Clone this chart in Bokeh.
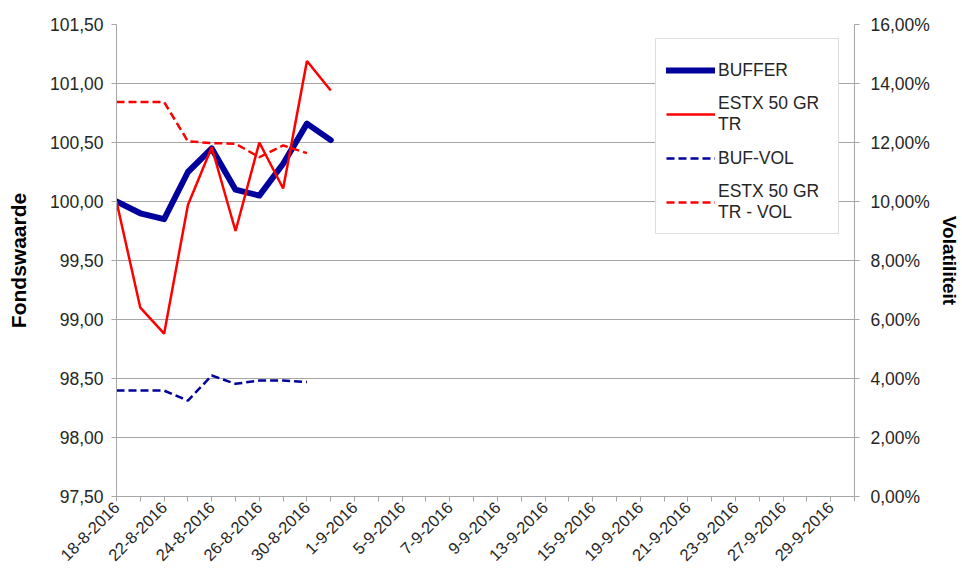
import math
from bokeh.plotting import figure
from bokeh.models import (Range1d, LinearAxis, FixedTicker, CustomJSTickFormatter,
                          Legend, LegendItem)
from bokeh.embed import file_html
from bokeh.resources import INLINE

# ---- data ----
dates = ["18-8-2016", "19-8-2016", "22-8-2016", "23-8-2016", "24-8-2016", "25-8-2016",
         "26-8-2016", "29-8-2016", "30-8-2016", "31-8-2016", "1-9-2016", "2-9-2016",
         "5-9-2016", "6-9-2016", "7-9-2016", "8-9-2016", "9-9-2016", "12-9-2016",
         "13-9-2016", "14-9-2016", "15-9-2016", "16-9-2016", "19-9-2016", "20-9-2016",
         "21-9-2016", "22-9-2016", "23-9-2016", "26-9-2016", "27-9-2016", "28-9-2016",
         "29-9-2016", "30-9-2016"]
buffer = [100.00, 99.90, 99.85, 100.25, 100.45, 100.10, 100.05, 100.32, 100.66, 100.52]
estx = [100.00, 99.10, 98.88, 99.97, 100.46, 99.75, 100.50, 100.11, 101.19, 100.94]
buf_vol = [3.59, 3.59, 3.59, 3.25, 4.10, 3.82, 3.93, 3.93, 3.88]
estx_vol = [13.37, 13.37, 13.37, 12.04, 11.98, 11.96, 11.50, 11.90, 11.64]
left_ticks = [97.5, 98.0, 98.5, 99.0, 99.5, 100.0, 100.5, 101.0, 101.5]
right_ticks = [0, 2, 4, 6, 8, 10, 12, 14, 16]

FONT = "Liberation Sans"
GRAY = "#a6a6a6"
TXT = "#262626"
BLUE = "#00009c"
RED = "#ff0000"

p = figure(width=962, height=573, x_range=Range1d(0, len(dates) - 1),
           y_range=Range1d(97.5, 101.5), output_backend="svg", toolbar_location=None,
           min_border_left=116, min_border_right=105, min_border_top=24,
           min_border_bottom=77)
p.outline_line_color = None
p.background_fill_color = "white"
p.border_fill_color = "white"
p.xgrid.visible = False
p.ygrid.grid_line_color = GRAY
p.ygrid.grid_line_width = 1
p.ygrid.ticker = FixedTicker(ticks=left_ticks)

# x axis
xa = p.xaxis[0]
xa.ticker = FixedTicker(ticks=list(range(len(dates))))
xa.major_label_overrides = {i: (d if i % 2 == 0 else "") for i, d in enumerate(dates)}
xa.major_label_orientation = math.pi / 4
xa.major_label_text_font = FONT
xa.major_label_text_font_size = "16.5px"
xa.major_label_text_color = TXT
xa.major_label_standoff = 3
xa.axis_line_color = GRAY
xa.major_tick_line_color = GRAY
xa.major_tick_out = 5
xa.major_tick_in = 0
xa.minor_tick_line_color = None

# left axis
ya = p.yaxis[0]
ya.ticker = FixedTicker(ticks=left_ticks)
ya.formatter = CustomJSTickFormatter(code="return tick.toFixed(2).replace('.', ',');")
ya.axis_label = "Fondswaarde"
ya.axis_label_text_font = FONT
ya.axis_label_text_font_style = "bold"
ya.axis_label_text_font_size = "21px"
ya.axis_label_text_color = "black"
ya.axis_label_standoff = 17
ya.major_label_text_font = FONT
ya.major_label_text_font_size = "17.5px"
ya.major_label_text_color = TXT
ya.major_label_standoff = 8
ya.axis_line_color = GRAY
ya.major_tick_line_color = GRAY
ya.major_tick_out = 5
ya.major_tick_in = 0
ya.minor_tick_line_color = None

# right axis
p.extra_y_ranges = {"vol": Range1d(0, 16)}
ra = LinearAxis(y_range_name="vol", ticker=FixedTicker(ticks=right_ticks),
                formatter=CustomJSTickFormatter(
                    code="return tick.toFixed(2).replace('.', ',') + '%';"))
ra.axis_label = "Volatiliteit"
ra.axis_label_text_font = FONT
ra.axis_label_text_font_style = "bold"
ra.axis_label_text_font_size = "19px"
ra.axis_label_text_color = "black"
ra.axis_label_standoff = 6
ra.major_label_text_font = FONT
ra.major_label_text_font_size = "17.5px"
ra.major_label_text_color = TXT
ra.major_label_standoff = 11
ra.axis_line_color = GRAY
ra.major_tick_line_color = GRAY
ra.major_tick_out = 5
ra.major_tick_in = 0
ra.minor_tick_line_color = None
p.add_layout(ra, "right")

# series
r1 = p.line(list(range(len(buffer))), buffer, line_color=BLUE, line_width=6,
            line_join="round", line_cap="round")
r2 = p.line(list(range(len(estx))), estx, line_color=RED, line_width=2.5)
r3 = p.line(list(range(len(buf_vol))), buf_vol, y_range_name="vol", line_color=BLUE,
            line_width=2.5, line_dash="8 4")
r4 = p.line(list(range(len(estx_vol))), estx_vol, y_range_name="vol", line_color=RED,
            line_width=2.5, line_dash="8 4")

legend = Legend(items=[LegendItem(label="BUFFER", renderers=[r1]),
                       LegendItem(label="ESTX 50 GR\nTR", renderers=[r2]),
                       LegendItem(label="BUF-VOL", renderers=[r3]),
                       LegendItem(label="ESTX 50 GR\nTR - VOL", renderers=[r4])],
                location=(539, 262), orientation="vertical",
                padding=10, margin=0, spacing=2,
                glyph_width=49, glyph_height=42, label_height=42, label_width=110,
                label_standoff=3,
                label_text_font=FONT, label_text_font_size="17.5px", label_text_color=TXT,
                border_line_color="#bdbdbd", border_line_width=1,
                background_fill_color="white", background_fill_alpha=1.0)
p.add_layout(legend, "center")

open("out.html", "w").write(file_html(p, INLINE))
